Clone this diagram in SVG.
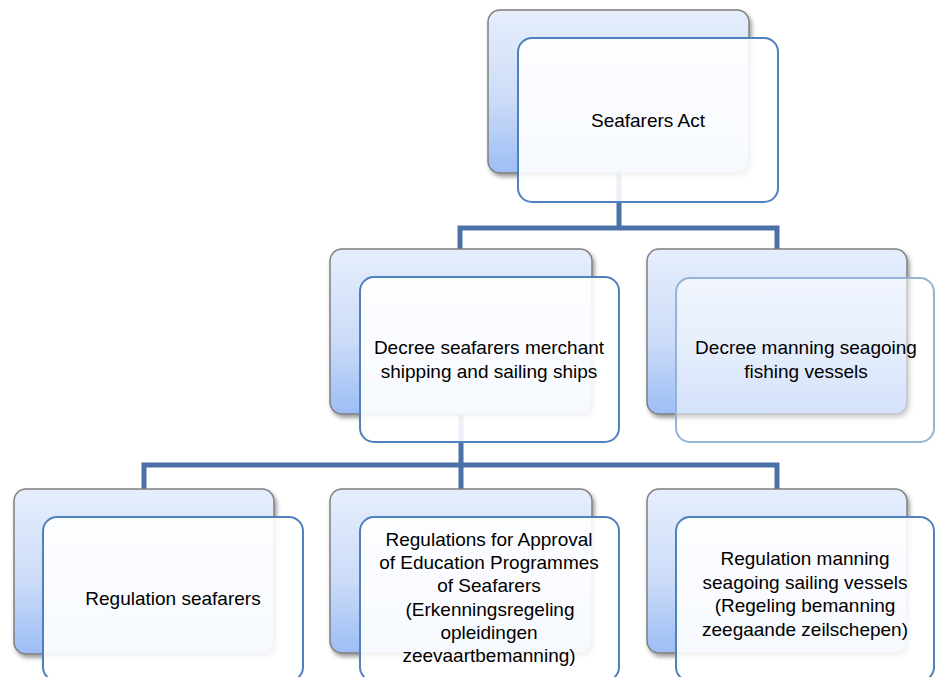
<svg xmlns="http://www.w3.org/2000/svg" width="935" height="677" viewBox="0 0 935 677">
<defs>
<linearGradient id="bg" x1="0" y1="0" x2="0" y2="1">
<stop offset="0" stop-color="#e6eefc"/>
<stop offset="0.55" stop-color="#ccdcf8"/>
<stop offset="1" stop-color="#9dbdf5"/>
</linearGradient>
<filter id="sh" x="-10%" y="-10%" width="125%" height="130%">
<feDropShadow dx="2" dy="3" stdDeviation="2" flood-color="#000" flood-opacity="0.4"/>
</filter>
<style>
.back{fill:url(#bg);stroke:#7f7f7f;stroke-width:1.5;filter:url(#sh)}
.front{fill:#ffffff;fill-opacity:0.9;stroke:#4f81bd;stroke-width:2}
.front2{fill:#ffffff;fill-opacity:0.55;stroke:#95b3d7;stroke-width:2}
.conn{fill:none;stroke:#4a72a8;stroke-width:5;stroke-linejoin:miter}
text{font-family:"Liberation Sans",Arial,sans-serif;font-size:19px;fill:#000;text-anchor:middle}
</style>
</defs>
<rect width="935" height="677" fill="#ffffff"/>
<g id="connectors">
<path class="conn" d="M619,173 V228 M460,249 V228 H777 V249"/>
<path class="conn" d="M461,414 V465 M144,489 V465 H777 V489 M461,465 V489"/>
</g>
<g id="n1">
<rect class="back" x="488" y="10" width="261" height="163" rx="12"/>
<rect class="front" x="518" y="38" width="260" height="164" rx="14"/>
<text x="648" y="127">Seafarers Act</text>
</g>
<g id="n2">
<rect class="back" x="330" y="249" width="262" height="165" rx="12"/>
<rect class="front" x="360" y="277" width="259" height="165" rx="14"/>
<text x="489" y="354">Decree seafarers merchant</text>
<text x="489" y="378">shipping and sailing ships</text>
</g>
<g id="n3">
<rect class="back" x="647" y="249" width="260" height="165" rx="12"/>
<rect class="front2" x="676" y="278" width="258" height="164" rx="14"/>
<text x="806" y="354">Decree manning seagoing</text>
<text x="806" y="378">fishing vessels</text>
</g>
<g id="n4">
<rect class="back" x="14" y="489" width="260" height="165" rx="12"/>
<rect class="front" x="43" y="517" width="260" height="164" rx="14"/>
<text x="173" y="605">Regulation seafarers</text>
</g>
<g id="n5">
<rect class="back" x="330" y="489" width="262" height="164" rx="12"/>
<rect class="front" x="360" y="517" width="259" height="164" rx="14"/>
<text x="489" y="546">Regulations for Approval</text>
<text x="489" y="569">of Education Programmes</text>
<text x="489" y="592">of Seafarers</text>
<text x="490" y="616">(Erkenningsregeling</text>
<text x="489" y="639">opleidingen</text>
<text x="489" y="662">zeevaartbemanning)</text>
</g>
<g id="n6">
<rect class="back" x="647" y="489" width="260" height="164" rx="12"/>
<rect class="front" x="676" y="517" width="258" height="164" rx="14"/>
<text x="805" y="565">Regulation manning</text>
<text x="805" y="589">seagoing sailing vessels</text>
<text x="805" y="612">(Regeling bemanning</text>
<text x="805" y="636">zeegaande zeilschepen)</text>
</g>
</svg>
